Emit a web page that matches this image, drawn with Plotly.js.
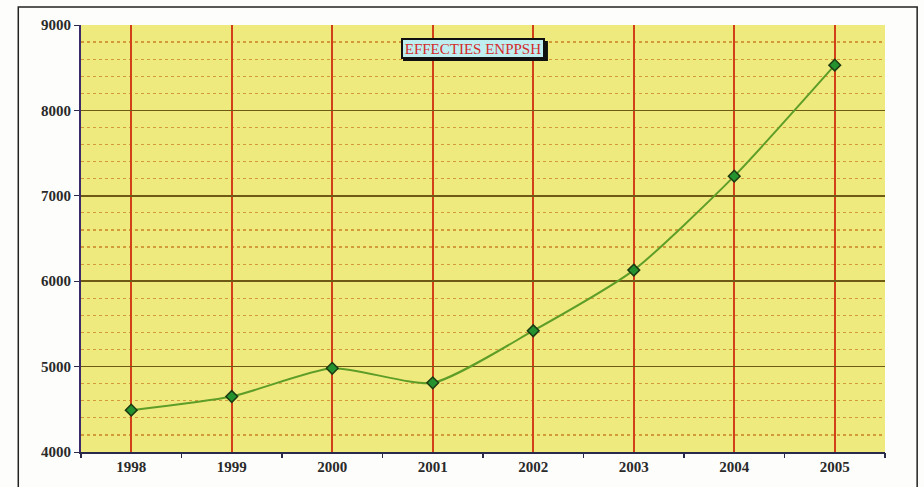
<!DOCTYPE html>
<html>
<head>
<meta charset="utf-8">
<script src="https://cdn.plot.ly/plotly-3.0.1.min.js"></script>
<style>html,body{margin:0;padding:0;background:#fff;}#chart{width:924px;height:487px;}</style>
</head>
<body>
<div id="chart"></div>
<script>
var years = ['1998','1999','2000','2001','2002','2003','2004','2005'];
var effectifs = [4490, 4650, 4980, 4810, 5420, 6130, 7230, 8530];
var chartTitle = 'EFFECTIES ENPPSH';
var yTicks = [4000, 5000, 6000, 7000, 8000, 9000];

var traces = [
  {
    x: years, y: effectifs, type: 'scatter', mode: 'markers', xaxis: 'x2',
    marker: {opacity: 0}, hoverinfo: 'skip', showlegend: false
  },
  {
    x: years, y: effectifs, type: 'scatter', mode: 'lines+markers',
    line: {color: '#5e9e28', width: 2, shape: 'spline', smoothing: 0.6},
    marker: {symbol: 'diamond', size: 9, color: '#23922f', line: {color: '#1c3a12', width: 1.5}},
    hoverinfo: 'x+y'
  }
];

var tickFont = {size: 15, family: '"Liberation Serif", serif', color: '#2a2a2a', weight: 'bold'};

var layout = {
  width: 924, height: 487,
  margin: {l: 81, r: 39, t: 25, b: 35},
  paper_bgcolor: '#fdfdfb',
  plot_bgcolor: '#efea7e',
  showlegend: false,
  font: {family: '"Liberation Serif", "DejaVu Serif", serif', color: '#222'},
  xaxis: {
    type: 'category', categoryorder: 'array', categoryarray: years,
    range: [-0.5, 7.5], dtick: 1,
    showgrid: true, gridcolor: '#d2401a', gridwidth: 2,
    ticks: '', showline: true, linecolor: '#2a2a4a', linewidth: 2,
    tickfont: tickFont,
    zeroline: false
  },
  xaxis2: {
    type: 'category', categoryorder: 'array', categoryarray: years,
    range: [-0.5, 7.5], overlaying: 'x', anchor: 'y', dtick: 1,
    tickson: 'boundaries', ticks: 'outside', ticklen: 5, tickcolor: '#2a2a4a', tickwidth: 1.5,
    showticklabels: false, showgrid: false, gridcolor: 'rgba(0,0,0,0)', showline: false, zeroline: false
  },
  yaxis: {
    range: [4000, 9000],
    tickvals: yTicks,
    showgrid: true, gridcolor: '#6e5a14', gridwidth: 1.5,
    ticks: 'outside', ticklen: 5, tickcolor: '#2a2a4a',
    showline: true, linecolor: '#3a2a6a', linewidth: 2,
    tickfont: tickFont,
    zeroline: false,
    minor: {dtick: 200, showgrid: true, gridcolor: '#d39a3a', griddash: 'dot', gridwidth: 1.2, ticks: ''}
  },
  annotations: [
    {
      xref: 'paper', yref: 'paper', x: 0.487, y: 0.946, xanchor: 'center', yanchor: 'middle',
      text: chartTitle, showarrow: false, width: 138, height: 15,
      font: {size: 15, color: '#d42a2a', family: '"Liberation Serif", serif'},
      bgcolor: '#bfeef0', bordercolor: '#111', borderwidth: 2, borderpad: 1
    }
  ],
  shapes: [
    {type: 'rect', xref: 'paper', yref: 'paper', x0: -0.078, x1: 1.04, y0: -0.2, y1: 1.042,
     line: {color: '#222', width: 1.5}, fillcolor: 'rgba(0,0,0,0)', layer: 'below'},
    {type: 'rect', xref: 'paper', yref: 'paper', x0: 0.4005, x1: 0.5808, y0: 0.9157, y1: 0.9625,
     line: {width: 0}, fillcolor: '#111', layer: 'above'}
  ]
};

Plotly.newPlot('chart', traces, layout, {displayModeBar: false, staticPlot: true});
</script>
</body>
</html>
